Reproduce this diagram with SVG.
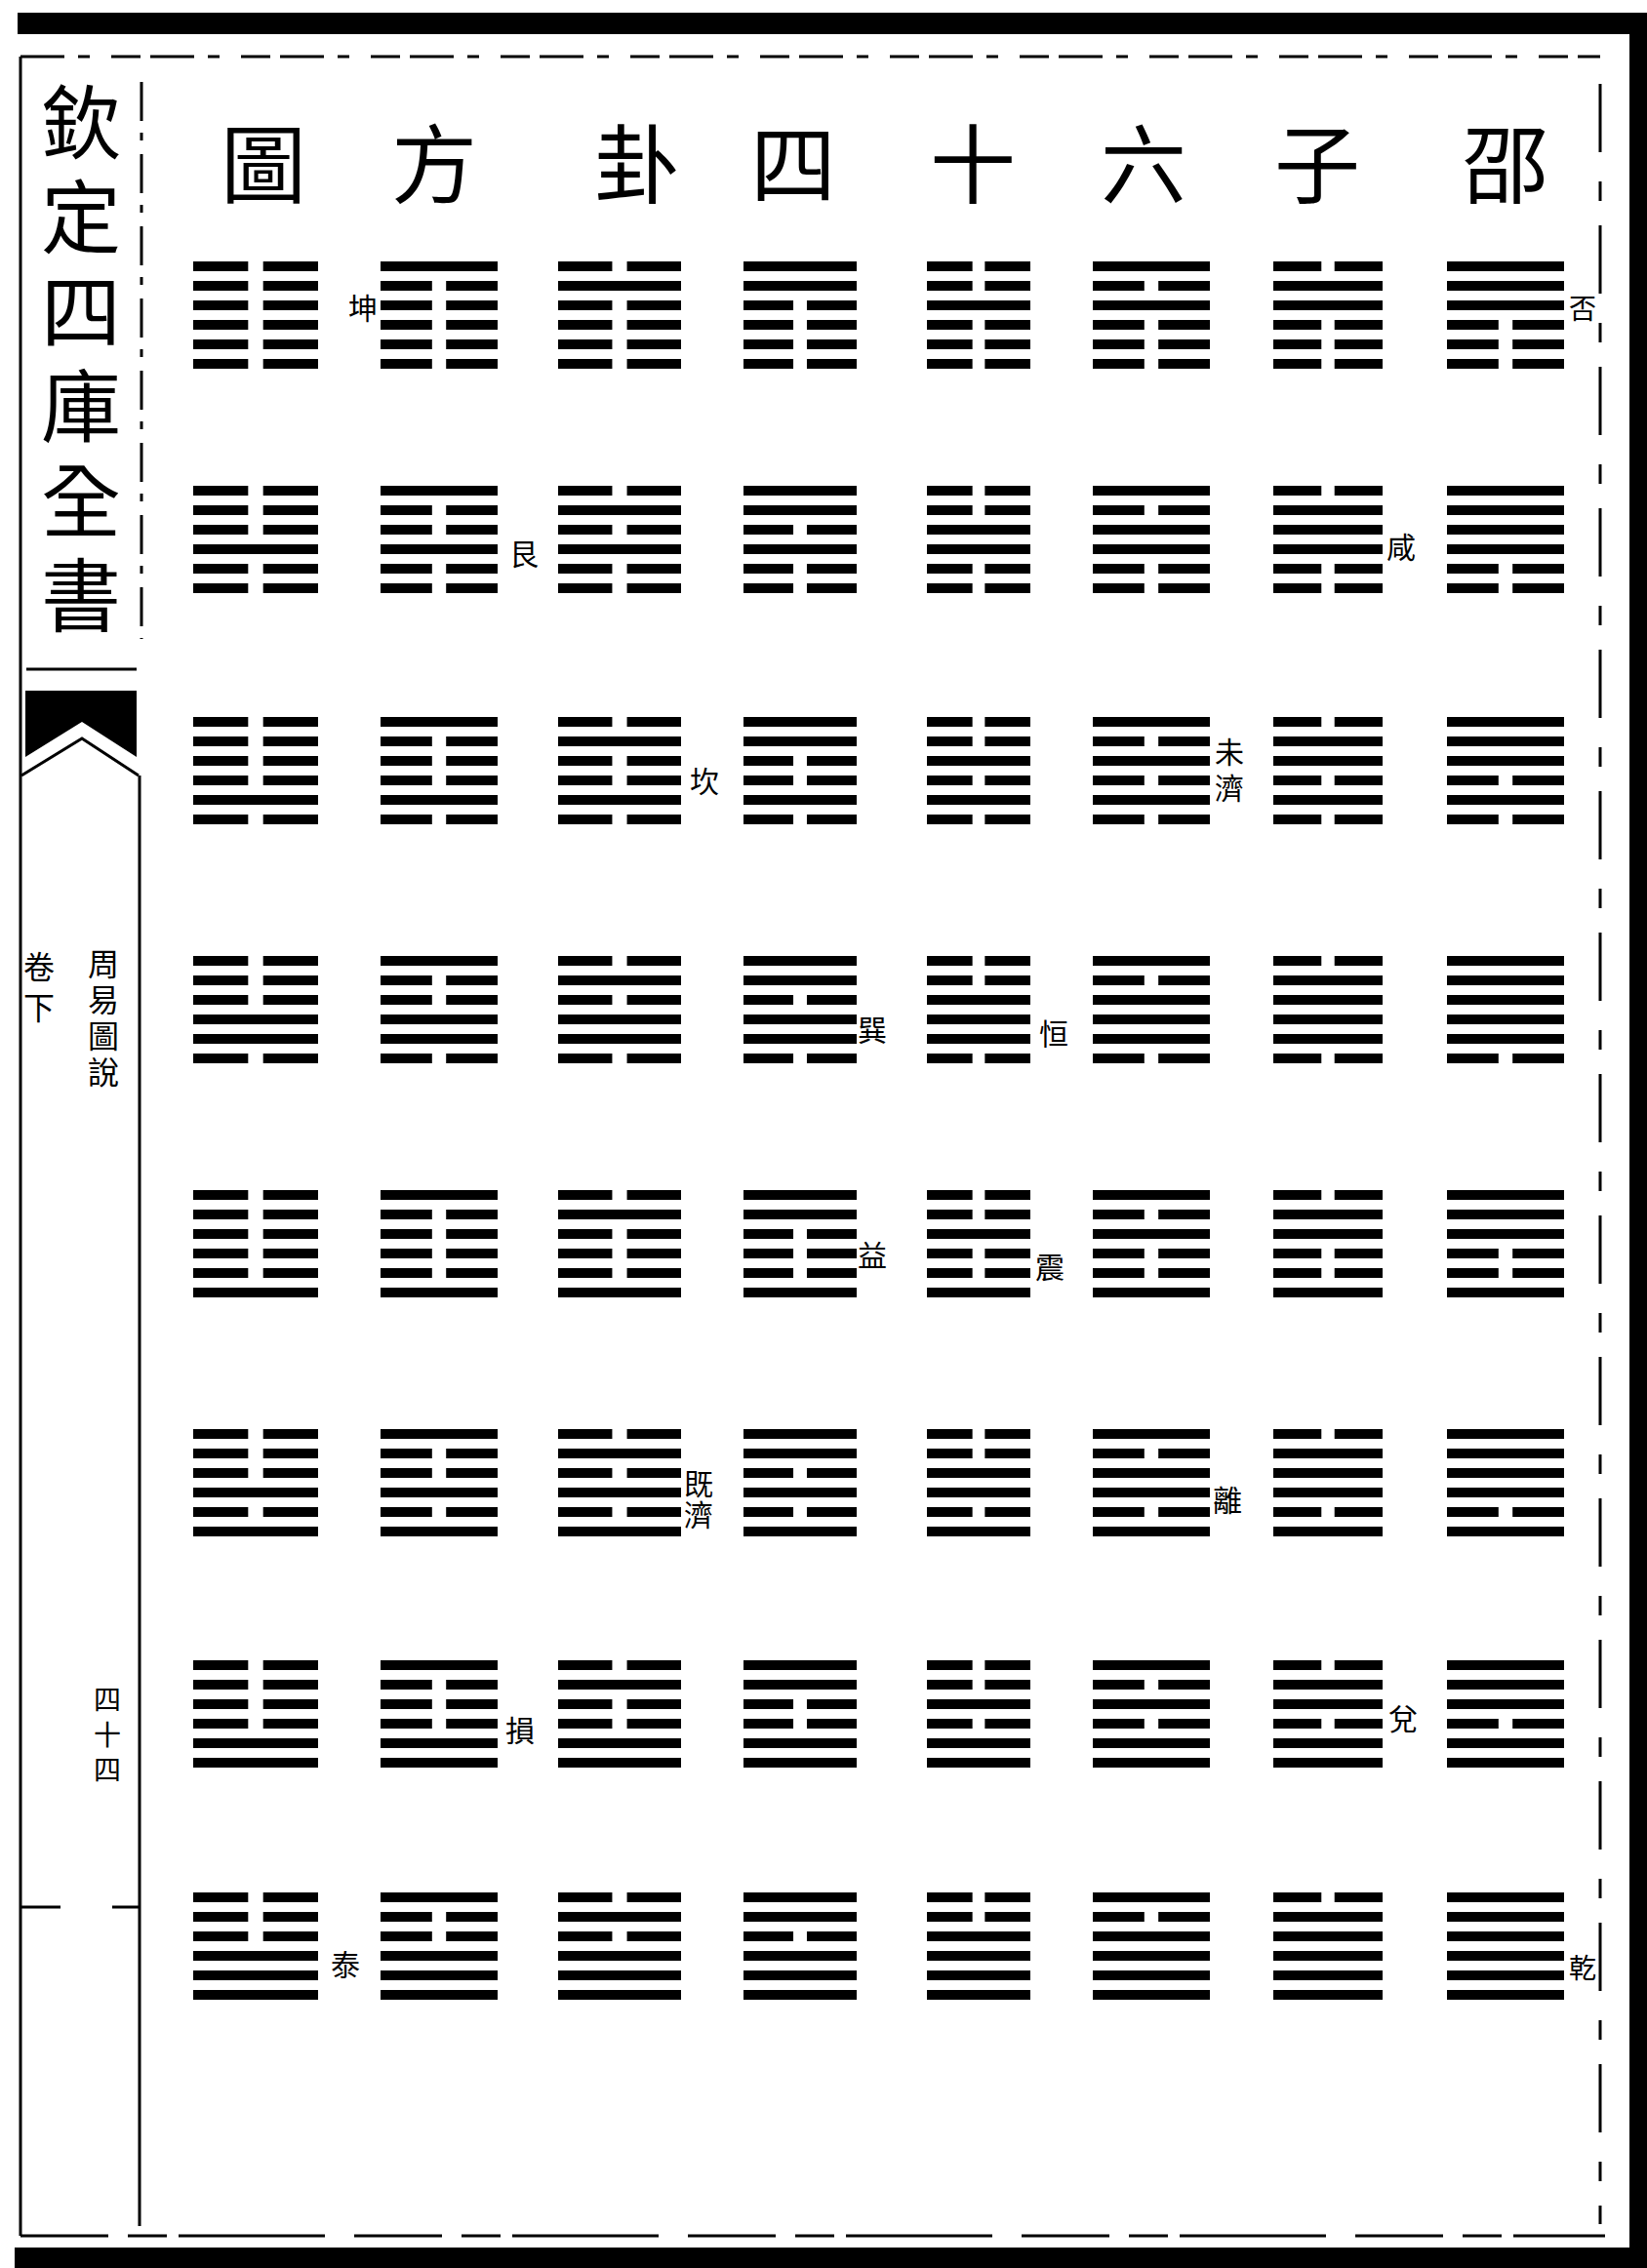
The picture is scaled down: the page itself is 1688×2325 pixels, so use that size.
<svg xmlns="http://www.w3.org/2000/svg" width="1688" height="2325" viewBox="0 0 1688 2325">
<style>
.cj{font-family:"Noto Sans CJK TC","Noto Sans CJK SC",sans-serif;fill:#000;text-anchor:middle}
.v{font-family:"Noto Sans CJK TC","Noto Sans CJK SC",sans-serif;fill:#000;text-anchor:start;writing-mode:vertical-rl}
.title{font-size:88px}
.lab{font-size:30px}
.fr{stroke:#000;stroke-width:3;fill:none}
</style>
<defs>
<symbol id="t0" viewBox="0 0 100 50" preserveAspectRatio="none"><rect x="0" y="0" width="44" height="10"/><rect x="56" y="0" width="44" height="10"/><rect x="0" y="20" width="44" height="10"/><rect x="56" y="20" width="44" height="10"/><rect x="0" y="40" width="44" height="10"/><rect x="56" y="40" width="44" height="10"/></symbol>
<symbol id="t1" viewBox="0 0 100 50" preserveAspectRatio="none"><rect x="0" y="0" width="100" height="10"/><rect x="0" y="20" width="44" height="10"/><rect x="56" y="20" width="44" height="10"/><rect x="0" y="40" width="44" height="10"/><rect x="56" y="40" width="44" height="10"/></symbol>
<symbol id="t2" viewBox="0 0 100 50" preserveAspectRatio="none"><rect x="0" y="0" width="44" height="10"/><rect x="56" y="0" width="44" height="10"/><rect x="0" y="20" width="100" height="10"/><rect x="0" y="40" width="44" height="10"/><rect x="56" y="40" width="44" height="10"/></symbol>
<symbol id="t3" viewBox="0 0 100 50" preserveAspectRatio="none"><rect x="0" y="0" width="100" height="10"/><rect x="0" y="20" width="100" height="10"/><rect x="0" y="40" width="44" height="10"/><rect x="56" y="40" width="44" height="10"/></symbol>
<symbol id="t4" viewBox="0 0 100 50" preserveAspectRatio="none"><rect x="0" y="0" width="44" height="10"/><rect x="56" y="0" width="44" height="10"/><rect x="0" y="20" width="44" height="10"/><rect x="56" y="20" width="44" height="10"/><rect x="0" y="40" width="100" height="10"/></symbol>
<symbol id="t5" viewBox="0 0 100 50" preserveAspectRatio="none"><rect x="0" y="0" width="100" height="10"/><rect x="0" y="20" width="44" height="10"/><rect x="56" y="20" width="44" height="10"/><rect x="0" y="40" width="100" height="10"/></symbol>
<symbol id="t6" viewBox="0 0 100 50" preserveAspectRatio="none"><rect x="0" y="0" width="44" height="10"/><rect x="56" y="0" width="44" height="10"/><rect x="0" y="20" width="100" height="10"/><rect x="0" y="40" width="100" height="10"/></symbol>
<symbol id="t7" viewBox="0 0 100 50" preserveAspectRatio="none"><rect x="0" y="0" width="100" height="10"/><rect x="0" y="20" width="100" height="10"/><rect x="0" y="40" width="100" height="10"/></symbol>
</defs>
<rect width="1688" height="2325" fill="#fff"/>
<g id="frame">
<rect x="18" y="13" width="1670" height="22" fill="#000"/>
<rect x="1670" y="13" width="18" height="2312" fill="#000"/>
<rect x="15" y="2304" width="1673" height="21" fill="#000"/>
<line class="fr" x1="21" y1="58" x2="1640" y2="58" stroke-dasharray="45 14 12 22 30 10"/>
<line class="fr" x1="21" y1="58" x2="21" y2="2292"/>
<line class="fr" x1="21" y1="2292" x2="1645" y2="2292" stroke-dasharray="90 20 40 12 150 30"/>
<line class="fr" x1="1640" y1="86" x2="1640" y2="2280" stroke-dasharray="70 30 20 25"/>
<line class="fr" x1="145" y1="84" x2="145" y2="655" stroke-dasharray="40 12 8 14"/>
<line class="fr" x1="27" y1="686" x2="140" y2="686"/>
<polygon points="26,708 140,708 140,776 84,740 26,776" fill="#000"/>
<polyline class="fr" points="22,795 84,757 142,795"/>
<line class="fr" x1="143" y1="795" x2="143" y2="2282"/>
<line class="fr" x1="21" y1="1955" x2="62" y2="1955"/>
<line class="fr" x1="115" y1="1955" x2="143" y2="1955"/>
</g>
<g id="margin-text">
<text class="v" x="83" y="84" font-size="82" letter-spacing="15">欽定四庫全書</text>
<text class="v" x="40" y="975" font-size="32" letter-spacing="10">卷下</text>
<text class="v" x="106" y="972" font-size="32" letter-spacing="5">周易圖說</text>
<text class="v" x="110" y="1728" font-size="28" letter-spacing="8">四十四</text>
</g>
<g id="title" class="cj title">
<text x="1543" y="201">邵</text>
<text x="1350" y="201">子</text>
<text x="1172" y="201">六</text>
<text x="997" y="201">十</text>
<text x="813" y="201">四</text>
<text x="653" y="201">卦</text>
<text x="445" y="201">方</text>
<text x="270" y="201">圖</text>
</g>
<g id="hexagrams" class="cj lab">
<g id="hex-1-1"><use href="#t0" x="198" y="268" width="128" height="50"/><use href="#t0" x="198" y="328" width="128" height="50"/><text x="372" y="327">坤</text></g>
<g id="hex-1-2"><use href="#t1" x="390" y="268" width="120" height="50"/><use href="#t0" x="390" y="328" width="120" height="50"/></g>
<g id="hex-1-3"><use href="#t2" x="572" y="268" width="126" height="50"/><use href="#t0" x="572" y="328" width="126" height="50"/></g>
<g id="hex-1-4"><use href="#t3" x="762" y="268" width="116" height="50"/><use href="#t0" x="762" y="328" width="116" height="50"/></g>
<g id="hex-1-5"><use href="#t4" x="950" y="268" width="106" height="50"/><use href="#t0" x="950" y="328" width="106" height="50"/></g>
<g id="hex-1-6"><use href="#t5" x="1120" y="268" width="120" height="50"/><use href="#t0" x="1120" y="328" width="120" height="50"/></g>
<g id="hex-1-7"><use href="#t6" x="1305" y="268" width="112" height="50"/><use href="#t0" x="1305" y="328" width="112" height="50"/></g>
<g id="hex-1-8"><use href="#t7" x="1483" y="268" width="120" height="50"/><use href="#t0" x="1483" y="328" width="120" height="50"/><text x="1622" y="327" font-size="28">否</text></g>

<g id="hex-2-1"><use href="#t0" x="198" y="498" width="128" height="50"/><use href="#t1" x="198" y="558" width="128" height="50"/></g>
<g id="hex-2-2"><use href="#t1" x="390" y="498" width="120" height="50"/><use href="#t1" x="390" y="558" width="120" height="50"/><text x="537" y="579">艮</text></g>
<g id="hex-2-3"><use href="#t2" x="572" y="498" width="126" height="50"/><use href="#t1" x="572" y="558" width="126" height="50"/></g>
<g id="hex-2-4"><use href="#t3" x="762" y="498" width="116" height="50"/><use href="#t1" x="762" y="558" width="116" height="50"/></g>
<g id="hex-2-5"><use href="#t4" x="950" y="498" width="106" height="50"/><use href="#t1" x="950" y="558" width="106" height="50"/></g>
<g id="hex-2-6"><use href="#t5" x="1120" y="498" width="120" height="50"/><use href="#t1" x="1120" y="558" width="120" height="50"/></g>
<g id="hex-2-7"><use href="#t6" x="1305" y="498" width="112" height="50"/><use href="#t1" x="1305" y="558" width="112" height="50"/><text x="1436" y="572">咸</text></g>
<g id="hex-2-8"><use href="#t7" x="1483" y="498" width="120" height="50"/><use href="#t1" x="1483" y="558" width="120" height="50"/></g>

<g id="hex-3-1"><use href="#t0" x="198" y="735" width="128" height="50"/><use href="#t2" x="198" y="795" width="128" height="50"/></g>
<g id="hex-3-2"><use href="#t1" x="390" y="735" width="120" height="50"/><use href="#t2" x="390" y="795" width="120" height="50"/></g>
<g id="hex-3-3"><use href="#t2" x="572" y="735" width="126" height="50"/><use href="#t2" x="572" y="795" width="126" height="50"/><text x="722" y="812">坎</text></g>
<g id="hex-3-4"><use href="#t3" x="762" y="735" width="116" height="50"/><use href="#t2" x="762" y="795" width="116" height="50"/></g>
<g id="hex-3-5"><use href="#t4" x="950" y="735" width="106" height="50"/><use href="#t2" x="950" y="795" width="106" height="50"/></g>
<g id="hex-3-6"><use href="#t5" x="1120" y="735" width="120" height="50"/><use href="#t2" x="1120" y="795" width="120" height="50"/><text class="v" x="1260" y="756" font-size="30" letter-spacing="7">未濟</text></g>
<g id="hex-3-7"><use href="#t6" x="1305" y="735" width="112" height="50"/><use href="#t2" x="1305" y="795" width="112" height="50"/></g>
<g id="hex-3-8"><use href="#t7" x="1483" y="735" width="120" height="50"/><use href="#t2" x="1483" y="795" width="120" height="50"/></g>

<g id="hex-4-1"><use href="#t0" x="198" y="980" width="128" height="50"/><use href="#t3" x="198" y="1040" width="128" height="50"/></g>
<g id="hex-4-2"><use href="#t1" x="390" y="980" width="120" height="50"/><use href="#t3" x="390" y="1040" width="120" height="50"/></g>
<g id="hex-4-3"><use href="#t2" x="572" y="980" width="126" height="50"/><use href="#t3" x="572" y="1040" width="126" height="50"/></g>
<g id="hex-4-4"><use href="#t3" x="762" y="980" width="116" height="50"/><use href="#t3" x="762" y="1040" width="116" height="50"/><text x="894" y="1067">巽</text></g>
<g id="hex-4-5"><use href="#t4" x="950" y="980" width="106" height="50"/><use href="#t3" x="950" y="1040" width="106" height="50"/><text x="1080" y="1071">恒</text></g>
<g id="hex-4-6"><use href="#t5" x="1120" y="980" width="120" height="50"/><use href="#t3" x="1120" y="1040" width="120" height="50"/></g>
<g id="hex-4-7"><use href="#t6" x="1305" y="980" width="112" height="50"/><use href="#t3" x="1305" y="1040" width="112" height="50"/></g>
<g id="hex-4-8"><use href="#t7" x="1483" y="980" width="120" height="50"/><use href="#t3" x="1483" y="1040" width="120" height="50"/></g>

<g id="hex-5-1"><use href="#t0" x="198" y="1220" width="128" height="50"/><use href="#t4" x="198" y="1280" width="128" height="50"/></g>
<g id="hex-5-2"><use href="#t1" x="390" y="1220" width="120" height="50"/><use href="#t4" x="390" y="1280" width="120" height="50"/></g>
<g id="hex-5-3"><use href="#t2" x="572" y="1220" width="126" height="50"/><use href="#t4" x="572" y="1280" width="126" height="50"/></g>
<g id="hex-5-4"><use href="#t3" x="762" y="1220" width="116" height="50"/><use href="#t4" x="762" y="1280" width="116" height="50"/><text x="894" y="1298">益</text></g>
<g id="hex-5-5"><use href="#t4" x="950" y="1220" width="106" height="50"/><use href="#t4" x="950" y="1280" width="106" height="50"/><text x="1076" y="1310">震</text></g>
<g id="hex-5-6"><use href="#t5" x="1120" y="1220" width="120" height="50"/><use href="#t4" x="1120" y="1280" width="120" height="50"/></g>
<g id="hex-5-7"><use href="#t6" x="1305" y="1220" width="112" height="50"/><use href="#t4" x="1305" y="1280" width="112" height="50"/></g>
<g id="hex-5-8"><use href="#t7" x="1483" y="1220" width="120" height="50"/><use href="#t4" x="1483" y="1280" width="120" height="50"/></g>

<g id="hex-6-1"><use href="#t0" x="198" y="1465" width="128" height="50"/><use href="#t5" x="198" y="1525" width="128" height="50"/></g>
<g id="hex-6-2"><use href="#t1" x="390" y="1465" width="120" height="50"/><use href="#t5" x="390" y="1525" width="120" height="50"/></g>
<g id="hex-6-3"><use href="#t2" x="572" y="1465" width="126" height="50"/><use href="#t5" x="572" y="1525" width="126" height="50"/><text class="v" x="716" y="1506" font-size="30" letter-spacing="2">既濟</text></g>
<g id="hex-6-4"><use href="#t3" x="762" y="1465" width="116" height="50"/><use href="#t5" x="762" y="1525" width="116" height="50"/></g>
<g id="hex-6-5"><use href="#t4" x="950" y="1465" width="106" height="50"/><use href="#t5" x="950" y="1525" width="106" height="50"/></g>
<g id="hex-6-6"><use href="#t5" x="1120" y="1465" width="120" height="50"/><use href="#t5" x="1120" y="1525" width="120" height="50"/><text x="1258" y="1549">離</text></g>
<g id="hex-6-7"><use href="#t6" x="1305" y="1465" width="112" height="50"/><use href="#t5" x="1305" y="1525" width="112" height="50"/></g>
<g id="hex-6-8"><use href="#t7" x="1483" y="1465" width="120" height="50"/><use href="#t5" x="1483" y="1525" width="120" height="50"/></g>

<g id="hex-7-1"><use href="#t0" x="198" y="1702" width="128" height="50"/><use href="#t6" x="198" y="1762" width="128" height="50"/></g>
<g id="hex-7-2"><use href="#t1" x="390" y="1702" width="120" height="50"/><use href="#t6" x="390" y="1762" width="120" height="50"/><text x="533" y="1785">損</text></g>
<g id="hex-7-3"><use href="#t2" x="572" y="1702" width="126" height="50"/><use href="#t6" x="572" y="1762" width="126" height="50"/></g>
<g id="hex-7-4"><use href="#t3" x="762" y="1702" width="116" height="50"/><use href="#t6" x="762" y="1762" width="116" height="50"/></g>
<g id="hex-7-5"><use href="#t4" x="950" y="1702" width="106" height="50"/><use href="#t6" x="950" y="1762" width="106" height="50"/></g>
<g id="hex-7-6"><use href="#t5" x="1120" y="1702" width="120" height="50"/><use href="#t6" x="1120" y="1762" width="120" height="50"/></g>
<g id="hex-7-7"><use href="#t6" x="1305" y="1702" width="112" height="50"/><use href="#t6" x="1305" y="1762" width="112" height="50"/><text x="1438" y="1773">兌</text></g>
<g id="hex-7-8"><use href="#t7" x="1483" y="1702" width="120" height="50"/><use href="#t6" x="1483" y="1762" width="120" height="50"/></g>

<g id="hex-8-1"><use href="#t0" x="198" y="1940" width="128" height="50"/><use href="#t7" x="198" y="2000" width="128" height="50"/><text x="354" y="2025">泰</text></g>
<g id="hex-8-2"><use href="#t1" x="390" y="1940" width="120" height="50"/><use href="#t7" x="390" y="2000" width="120" height="50"/></g>
<g id="hex-8-3"><use href="#t2" x="572" y="1940" width="126" height="50"/><use href="#t7" x="572" y="2000" width="126" height="50"/></g>
<g id="hex-8-4"><use href="#t3" x="762" y="1940" width="116" height="50"/><use href="#t7" x="762" y="2000" width="116" height="50"/></g>
<g id="hex-8-5"><use href="#t4" x="950" y="1940" width="106" height="50"/><use href="#t7" x="950" y="2000" width="106" height="50"/></g>
<g id="hex-8-6"><use href="#t5" x="1120" y="1940" width="120" height="50"/><use href="#t7" x="1120" y="2000" width="120" height="50"/></g>
<g id="hex-8-7"><use href="#t6" x="1305" y="1940" width="112" height="50"/><use href="#t7" x="1305" y="2000" width="112" height="50"/></g>
<g id="hex-8-8"><use href="#t7" x="1483" y="1940" width="120" height="50"/><use href="#t7" x="1483" y="2000" width="120" height="50"/><text x="1622" y="2028" font-size="28">乾</text></g>
</g>
</svg>
